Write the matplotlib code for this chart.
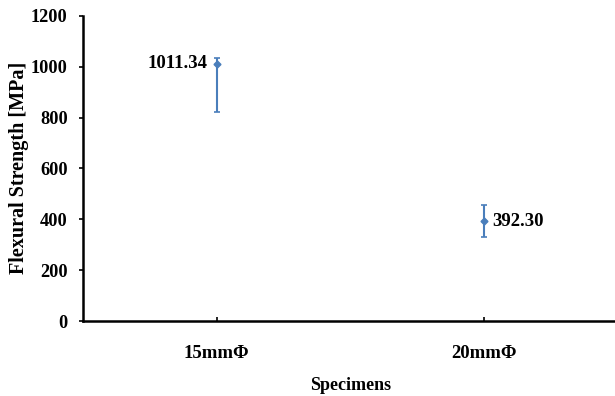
import matplotlib
matplotlib.use("Agg")
import matplotlib.pyplot as plt
import numpy as np

categories = ["15mmΦ", "20mmΦ"]
means = [1011.34, 392.30]
err_low = [189, 62]
err_high = [22, 66]
labels = ["1011.34", "392.30"]
yticks = [0, 200, 400, 600, 800, 1000, 1200]

plt.rcParams['font.family'] = ['Liberation Serif', 'DejaVu Serif']
plt.rcParams['font.weight'] = 'bold'

fig = plt.figure(figsize=(6.15, 3.96), dpi=100)
ax = fig.add_axes([83/615, (396-321)/396, 535/615, 305/396])

x = np.arange(1, len(categories) + 1)
color = '#4a7ebb'
ax.errorbar(x, means, yerr=[err_low, err_high], fmt='D', color=color,
            markersize=3.5, ecolor=color, elinewidth=1.5, capsize=2.5, capthick=1.2)

ax.annotate(labels[0], (x[0], means[0]), xytext=(-7, 0), textcoords='offset points',
            ha='right', va='center', fontsize=13.5, fontweight='bold')
ax.annotate(labels[1], (x[1], means[1]), xytext=(6, 0), textcoords='offset points',
            ha='left', va='center', fontsize=13.5, fontweight='bold')

ax.set_xlim(0.5, 2.5)
ax.set_ylim(0, 1200)
ax.set_yticks(yticks)
ax.set_xticks(x)
ax.set_xticklabels(categories)
ax.tick_params(axis='y', direction='out', length=3, width=1.2, labelsize=13.2, pad=8)
ax.tick_params(axis='x', direction='in', length=3, width=1.2, labelsize=13.5, pad=17)
for lab in ax.get_xticklabels() + ax.get_yticklabels():
    lab.set_fontweight('bold')
for s in ax.spines.values():
    s.set_linewidth(1.8)
ax.spines['top'].set_visible(False)

ax.set_xlabel("Specimens", fontsize=13, fontweight='bold', labelpad=11)
fig.text(19/615, (396-168)/396, "Flexural Strength [MPa]", rotation=90,
         ha='center', va='center', fontsize=14.5, fontweight='bold')

fig.savefig("out.png", dpi=100)
